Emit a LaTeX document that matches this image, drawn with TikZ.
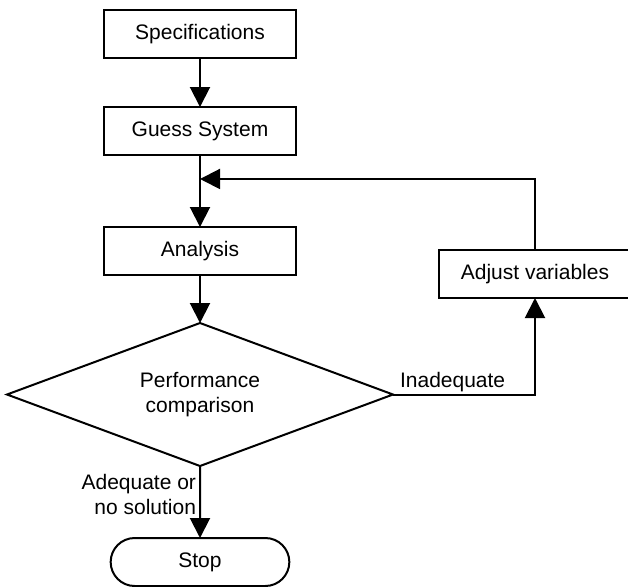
\documentclass[tikz,border=0pt]{standalone}
\usepackage{fontspec}
\setmainfont{Liberation Sans}
\usepackage{tikz}
\usetikzlibrary{arrows.meta,shapes,positioning,calc}

\begin{document}
\begin{tikzpicture}[
  node distance=24pt and 71.5pt,
  font=\fontsize{10.5pt}{12.5pt}\selectfont,
  pbox/.style={rectangle,draw,line width=1pt,outer sep=0pt,minimum width=96pt,minimum height=24pt,align=center},
  dbox/.style={diamond,draw,line width=1pt,outer sep=0pt,aspect=2.7,minimum width=193pt,minimum height=71.5pt,inner sep=0pt,align=center},
  tbox/.style={rounded rectangle,draw,line width=1pt,outer sep=0pt,minimum width=96pt,minimum height=24pt,align=center},
  arrow/.style={-{Triangle[length=10pt,width=10pt]},line width=1pt}
]
  \useasboundingbox (0,0) rectangle (314pt,-293pt);

  % Main path
  \node[pbox] (spec) at (100pt,-17pt) {Specifications};
  \node[pbox,below=24.5pt of spec] (guess) {Guess System};
  \node[pbox,below=36pt of guess] (anal) {Analysis};
  \node[dbox,below=24pt of anal] (perf) {Performance\\comparison};
  \node[tbox,below=36pt of perf] (stop) {Stop};

  % Loop
  \node[pbox,right=of anal,yshift=-11.5pt] (adjust) {Adjust variables};
  \coordinate (join) at ($(guess.south)!0.333!(anal.north)$);

  % Arrows
  \draw[arrow] (spec) -- (guess);
  \draw[arrow] (guess) -- (anal);
  \draw[arrow] (anal) -- (perf);
  \draw[arrow] (perf) -- (stop) node[pos=0.4,left,align=right,inner sep=1.5pt] {Adequate or\\no solution};
  \draw[arrow] (perf.east) -| (adjust.south) node[pos=0.21,above,inner sep=1pt] {Inadequate};
  \draw[arrow] (adjust.north) |- (join);
\end{tikzpicture}
\end{document}
